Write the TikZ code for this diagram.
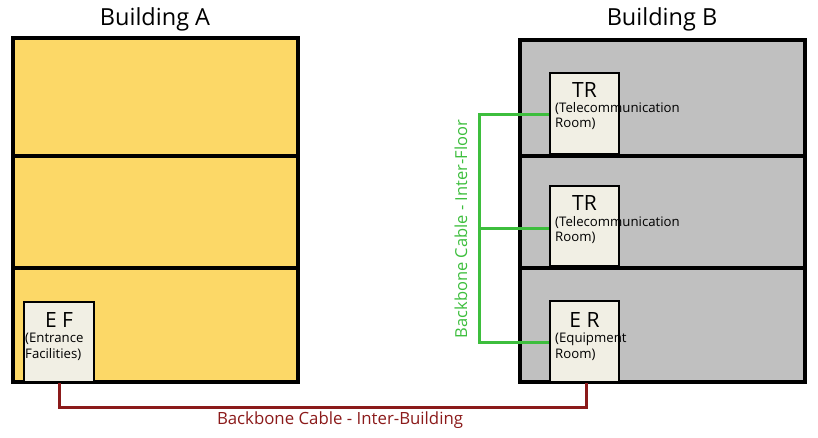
\documentclass[tikz,border=0pt]{standalone}
\usepackage{fontspec}
\setmainfont{Open Sans}
\definecolor{bya}{HTML}{FCD867}
\definecolor{byb}{HTML}{C0C0C0}
\definecolor{room}{HTML}{F1EFE4}
\definecolor{gcab}{HTML}{3DBE3D}
\definecolor{rcab}{HTML}{8B1A1A}
\begin{document}
\begin{tikzpicture}[x=1pt,y=-1pt,
  bld/.style={draw=black,line width=3.2pt},
  rm/.style={draw=black,line width=1.8pt,fill=room},
  big/.style={font=\fontsize{21}{21}\selectfont},
  small/.style={font=\fontsize{13.2}{15.5}\selectfont,align=left,anchor=north west,inner sep=0pt},
  title/.style={font=\fontsize{23.5}{23.5}\selectfont}]
\useasboundingbox (0,0) rectangle (818,437);
\fill[bya] (13,38) rectangle (298,382);
\draw[bld] (13,38) rectangle (298,382);
\draw[bld] (13,156) -- (298,156);
\draw[bld] (13,268) -- (298,268);
\fill[byb] (520,40) rectangle (805,382);
\draw[bld] (520,40) rectangle (805,382);
\draw[bld] (520,156) -- (805,156);
\draw[bld] (520,268) -- (805,268);
\node[title] (ta) at (155,19) {Building A};
\node[title] (tb) at (662,19) {Building B};
% rooms
\node[rm,minimum width=69pt,minimum height=81pt,inner sep=0pt] (tr1) at (584.5,113.5) {};
\node[rm,minimum width=69pt,minimum height=80pt,inner sep=0pt] (tr2) at (584.5,226) {};
\node[rm,minimum width=69pt,minimum height=81pt,inner sep=0pt] (er) at (584.5,341.5) {};
\node[rm,minimum width=70pt,minimum height=80pt,inner sep=0pt] (ef) at (59,342) {};
\node[big] at (584.5,90) {TR};
\node[small] at (555,102) {(Telecommunication\\Room)};
\node[big] at (584.5,203) {TR};
\node[small] at (555,216) {(Telecommunication\\Room)};
\node[big] at (584.5,320) {E R};
\node[small] at (555,333) {(Equipment\\Room)};
\node[big] at (59,320) {E F};
\node[small] at (25,333) {(Entrance\\Facilities)};
% green cable
\coordinate (g1) at (479,114);
\coordinate (g2) at (479,228);
\coordinate (g3) at (479,342);
\draw[gcab,line width=3pt] (tr1.west |- g1) -- (g1) -- (g3) -- (er.west |- g3);
\draw[gcab,line width=3pt] (g2) -- (tr2.west |- g2);
\node[gcab,rotate=90,font=\fontsize{16.5}{16.5}\selectfont] (gl) at (461,229) {Backbone Cable - Inter-Floor};
% red cable
\coordinate (r1) at (59,407);
\coordinate (r2) at (586,407);
\draw[rcab,line width=3pt] (ef.south) -- (r1) -- (r2) -- (er.south -| r2);
\node[rcab,font=\fontsize{16.8}{16.8}\selectfont] (rl) at (340,420) {Backbone Cable - Inter-Building};
\end{tikzpicture}
\end{document}
